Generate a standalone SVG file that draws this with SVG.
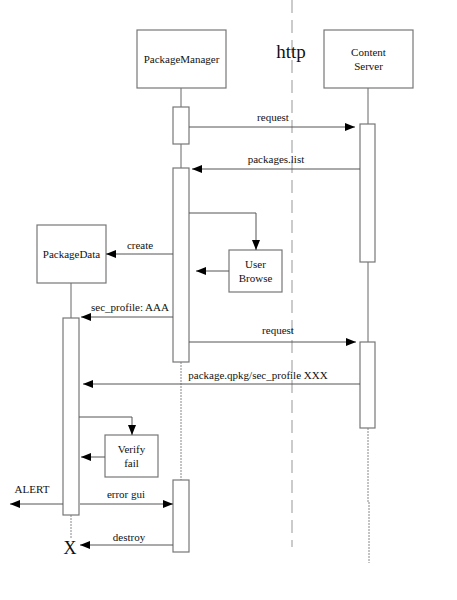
<svg xmlns="http://www.w3.org/2000/svg" width="457" height="600" viewBox="0 0 457 600">
<defs>
<marker id="ah" viewBox="0 0 10 8" refX="10" refY="4" markerWidth="10" markerHeight="8" markerUnits="userSpaceOnUse" orient="auto">
<path d="M0,0 L10,4 L0,8 Z" fill="#000"/>
</marker>
</defs>
<style>
.box{fill:#fff;stroke:#777;stroke-width:1.2}
.act{fill:#fff;stroke:#777;stroke-width:1.2}
.life{stroke:#666;stroke-width:1;fill:none}
.dot{stroke:#888;stroke-width:1;stroke-dasharray:2,1;fill:none}
.msg{stroke:#555;stroke-width:1;fill:none;marker-end:url(#ah)}
.t{font-family:"Liberation Serif","Times New Roman",serif;font-size:11px;fill:#111;text-anchor:middle}
</style>
<rect width="457" height="600" fill="#fff"/>
<line x1="292" y1="0" x2="292" y2="547" stroke="#bbb" stroke-width="1.5" stroke-dasharray="13,7"/>
<text x="291" y="58" style="font-family:'Liberation Serif',serif;font-size:19px;fill:#111;text-anchor:middle">http</text>

<g id="lifelines">
<line class="life" x1="181" y1="88" x2="181" y2="107"/>
<line class="life" x1="181" y1="144" x2="181" y2="168"/>
<line class="dot" x1="181" y1="362" x2="181" y2="480"/>
<line class="life" x1="368" y1="88" x2="368" y2="124"/>
<line class="life" x1="368" y1="262" x2="368" y2="342"/>
<line class="dot" x1="368" y1="428" x2="368" y2="502"/>
<line class="dot" x1="369" y1="502" x2="369" y2="563"/>
<line class="life" x1="71" y1="283" x2="71" y2="318"/>
<line class="dot" x1="71" y1="515" x2="71" y2="538"/>
</g>

<g id="PackageManager">
<rect class="box" x="137" y="30" width="89" height="58"/>
<text class="t" x="181.5" y="63">PackageManager</text>
<rect class="act" x="173" y="107" width="16" height="37"/>
<rect class="act" x="173" y="168" width="16" height="194"/>
<rect class="act" x="173" y="480" width="16" height="72"/>
</g>

<g id="ContentServer">
<rect class="box" x="324" y="30" width="89" height="58"/>
<text class="t" x="368.5" y="56">Content</text>
<text class="t" x="368.5" y="70">Server</text>
<rect class="act" x="360" y="124" width="15" height="138"/>
<rect class="act" x="360" y="342" width="15" height="86"/>
</g>

<g id="PackageData">
<rect class="box" x="37" y="225" width="69" height="58"/>
<text class="t" x="71.5" y="258">PackageData</text>
<rect class="act" x="63" y="318" width="16" height="197"/>
<text x="70" y="554" style="font-family:'Liberation Serif',serif;font-size:18px;fill:#111;text-anchor:middle">X</text>
</g>

<g id="UserBrowse">
<rect class="box" x="229" y="250" width="53" height="42"/>
<text class="t" x="255.5" y="268">User</text>
<text class="t" x="255.5" y="282">Browse</text>
</g>

<g id="VerifyFail">
<rect class="box" x="105" y="435" width="53" height="42"/>
<text class="t" x="131.5" y="453">Verify</text>
<text class="t" x="131.5" y="467">fail</text>
</g>

<g id="connectors">
<line class="msg" x1="189" y1="127" x2="355" y2="127"/>
<text class="t" x="273" y="121">request</text>
<line class="msg" x1="360" y1="169" x2="192" y2="169"/>
<text class="t" x="276" y="163">packages.list</text>
<polyline class="msg" points="189,213 256,213 256,250"/>
<line class="msg" x1="229" y1="271" x2="196" y2="271"/>
<line class="msg" x1="173" y1="254" x2="106" y2="254"/>
<text class="t" x="140" y="249">create</text>
<line class="msg" x1="173" y1="317" x2="81" y2="317"/>
<text class="t" x="130" y="311">sec_profile: AAA</text>
<line class="msg" x1="189" y1="342" x2="356" y2="342"/>
<text class="t" x="278" y="334">request</text>
<line class="msg" x1="360" y1="384" x2="83" y2="384"/>
<text class="t" x="258" y="379">package.qpkg/sec_profile XXX</text>
<polyline class="msg" points="79,417 132,417 132,435"/>
<line class="msg" x1="105" y1="457" x2="81" y2="457"/>
<line class="msg" x1="63" y1="504" x2="10" y2="504"/>
<text class="t" x="32" y="493">ALERT</text>
<line class="msg" x1="80" y1="504" x2="173" y2="504"/>
<text class="t" x="126" y="498">error gui</text>
<line class="msg" x1="173" y1="545" x2="80" y2="545"/>
<text class="t" x="129" y="541">destroy</text>
</g>
</svg>
